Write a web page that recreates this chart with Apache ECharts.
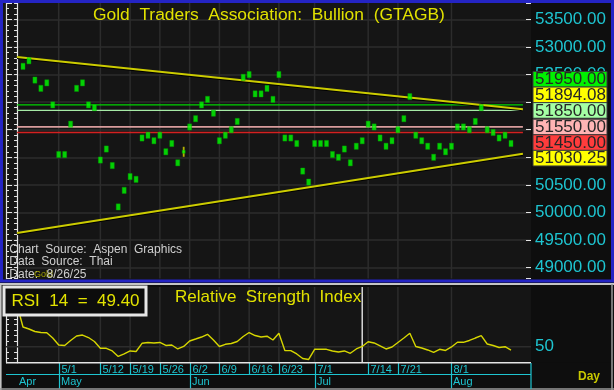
<!DOCTYPE html>
<html><head><meta charset="utf-8">
<script src="https://cdn.jsdelivr.net/npm/echarts@6/dist/echarts.min.js"></script>
<style>html,body{margin:0;padding:0;background:#000;} #c{width:614px;height:390px;}</style>
</head><body><div id="c"></div>
<script>
// ---------- DATA ----------
const dates = ['4/22','4/23','4/24','4/25','4/28','4/29','4/30',
 '5/1','5/2','5/5','5/6','5/7','5/8','5/9','5/12','5/13','5/14','5/15','5/16','5/19','5/20','5/21','5/22','5/23','5/26','5/27','5/28','5/29','5/30',
 '6/2','6/3','6/4','6/5','6/6','6/9','6/10','6/11','6/12','6/13','6/16','6/17','6/18','6/19','6/20','6/23','6/24','6/25','6/26','6/27','6/30',
 '7/1','7/2','7/3','7/4','7/7','7/8','7/9','7/10','7/11','7/14','7/15','7/16','7/17','7/18','7/21','7/22','7/23','7/24','7/25','7/28','7/29','7/30','7/31',
 '8/1','8/4','8/5','8/6','8/7','8/8','8/11','8/12','8/13','8/14','8/15'];
// daily bullion price (bar centre), baht; first day is before the first bar
const prices = [null,
 52650,52750,52400,52250,52350,51950,51050,51050,51600,52250,
 52350,51950,51900,50950,51150,50850,50100,50400,50650,50600,
 51350,51400,51300,51400,51100,51250,50900,51100,51550,51700,
 51950,52050,51800,51300,51400,51500,51650,52450,52500,52150,
 52150,52250,52050,52500,51350,51350,51250,50750,50550,51250,
 51250,51250,51050,51000,51150,50900,51200,51300,51600,51550,
 51350,51200,51300,51500,51700,52100,51400,51300,51200,51000,
 51200,51100,51200,51550,51550,51500,51650,51900,51500,51450,
 51350,51400,51250];
const dojiDate = '5/30';
const rsi = [57.5,
 53.54,53.18,52.73,52.55,52.52,51.56,50.31,50.22,51.12,51.92,
 52.1,51.65,50.94,49.71,49.71,49.23,48.24,48.69,49.23,49.14,
 50.61,50.76,50.67,50.76,50.22,50.31,49.59,50.04,51.03,51.38,
 51.74,52.23,51.2,50.04,50.43,50.58,50.94,51.83,52.55,52.01,
 51.74,51.89,51.2,52.41,49.32,49.3,48.69,47.88,47.7,49.53,
 49.53,49.53,49.23,49.05,49.23,48.81,49.59,50.04,50.9,50.67,
 50.13,49.59,49.95,50.76,51.56,52.41,50.04,49.77,49.41,48.99,
 49.53,49.32,49.95,50.79,50.79,51.12,51.56,51.98,50.49,50.22,
 49.86,50.0,49.4];
const rsiNow = 49.40;
const upperTrend = [[0, 52821], [85, 51872]];
const lowerTrend = [[0, 49629], [85, 51064]];
const levelValues = [51950, 51850, 51550, 51450];
const levelSpan = [0, 85];
const tagValues = [51950, 51894.08, 51850, 51550, 51450, 51030.25];
const weekTicks = ['5/1','5/12','5/19','5/26','6/2','6/9','6/16','6/23','7/1','7/14','7/21','8/1'];
const monthLabels = ['Apr','May','Jun','Jul','Aug'];
const monthStarts = ['4/22','5/1','6/2','7/1','8/1'];
const cursorDate = '7/11';
const titleText = 'Gold  Traders  Association:  Bullion  (GTAGB)';
const sourceLines = ['Chart  Source:  Aspen  Graphics', 'Data  Source:  Thai'];
const dateText = '8/26/25';

// ---------- STYLE ----------
const FONT = '"Liberation Sans", Arial, sans-serif';
const CYAN = '#1ec4d0';
const YEL = '#e2e200';
const GRID = '#2c2c2c';
const WHITE = '#e4e4e4';
const levelColors = ['#00d400', '#a6eaa6', '#d89c9c', '#d42020'];
const levelWidths = [1.3, 1.3, 1.8, 1.3];
const tagColors = ['#00f000', '#ffff00', '#a4ffa4', '#ffb4b4', '#ff3c3c', '#ffff00'];
const PRICE_MIN = 48800, PRICE_MAX = 53800;
const RSI_MIN = 47.12, RSI_MAX = 60.74;
const X_MIN = -1.857, X_MAX = 86.36;

const idxOf = d => dates.indexOf(d);
const chart = echarts.init(document.getElementById('c'), null, {width: 614, height: 390});

function yAx(grid, pos, min, max, step, len, line, label, split) {
  return {
    gridIndex: grid, type: 'value', position: pos, min: min, max: max,
    minInterval: step, maxInterval: step, splitNumber: Math.round((max - min) / step),
    axisLine: {show: line, lineStyle: {color: WHITE, width: 1.2}},
    axisTick: {show: true, inside: true, length: len, lineStyle: {color: WHITE, width: 1}},
    axisLabel: label ? Object.assign({show: true, color: CYAN, fontSize: 17, fontFamily: FONT, margin: 4}, label) : {show: false},
    splitLine: split ? {show: true, showMinLine: false, showMaxLine: false, lineStyle: {color: GRID, width: 1.5}} : {show: false}
  };
}

const vGrid = (xi, yi, yv) => ({
  type: 'custom', xAxisIndex: xi, yAxisIndex: yi, silent: true, z: 1,
  data: weekTicks.map(d => [idxOf(d), yv]),
  renderItem: (params, api) => {
    const cs = params.coordSys;
    const x = api.coord([api.value(0), yv])[0];
    return {type: 'line', shape: {x1: x, y1: cs.y, x2: x, y2: cs.y + cs.height},
      style: {stroke: GRID, lineWidth: 1.5}};
  }
});

const series = [
  vGrid(0, 0, 51000),
  vGrid(1, 4, 50),
  // RSI 50 gridline + cursor
  {type: 'custom', xAxisIndex: 1, yAxisIndex: 4, silent: true, z: 1,
   data: [[idxOf(cursorDate), 50]],
   renderItem: (params, api) => {
     const cs = params.coordSys;
     const y = api.coord([0, 50])[1];
     const x = api.coord([api.value(0), 50])[0];
     return {type: 'group', children: [
       {type: 'line', shape: {x1: cs.x, y1: y, x2: cs.x + cs.width, y2: y}, style: {stroke: GRID, lineWidth: 1.5}},
       {type: 'line', shape: {x1: x, y1: cs.y, x2: x, y2: cs.y + cs.height}, style: {stroke: '#d8d8d8', lineWidth: 1.5}}
     ]};
   }}
];
levelValues.forEach((v, i) => series.push({
  type: 'line', xAxisIndex: 0, yAxisIndex: 0, symbol: 'none', silent: true, z: 3,
  data: [[levelSpan[0], v], [levelSpan[1], v]],
  lineStyle: {color: levelColors[i], width: levelWidths[i]}
}));
[upperTrend, lowerTrend].forEach(t => series.push({
  type: 'line', xAxisIndex: 0, yAxisIndex: 0, symbol: 'none', silent: true, z: 3,
  data: t, lineStyle: {color: '#cccc00', width: 2, shadowColor: '#000', shadowOffsetY: 1}
}));
const dIdx = idxOf(dojiDate);
series.push({
  type: 'scatter', xAxisIndex: 0, yAxisIndex: 0, symbol: 'rect', symbolSize: [1.8, 10], z: 4, silent: true,
  itemStyle: {color: '#d8d800'},
  data: [[dIdx, prices[dIdx]]]
});
series.push({
  type: 'scatter', xAxisIndex: 0, yAxisIndex: 0, symbol: 'rect', symbolSize: [4, 6.2], z: 5, silent: true,
  itemStyle: {color: '#00ff00', borderColor: '#00a000', borderWidth: 0.5},
  data: prices.map((p, i) => p == null ? null : (i === dIdx ? {value: [i, p], symbolSize: [3, 3]} : [i, p])).filter(d => d)
});
series.push({
  type: 'line', xAxisIndex: 1, yAxisIndex: 4, symbol: 'none', silent: true, z: 4,
  data: rsi.map((v, i) => [i, v]), lineStyle: {color: '#d6d600', width: 1.4}
});
// date axis rows (week ticks and month ticks) under the RSI panel
series.push({
  type: 'custom', xAxisIndex: 1, yAxisIndex: 4, silent: true, clip: false, z: 6,
  data: weekTicks.map(d => [idxOf(d), 50]),
  renderItem: (params, api) => {
    const cs = params.coordSys;
    const x = Math.round(api.coord([api.value(0), 50])[0]) + 0.5;
    const yTop = cs.y + cs.height;
    return {type: 'group', children: [
      {type: 'line', shape: {x1: x, y1: yTop, x2: x, y2: yTop + 11.8}, style: {stroke: CYAN, lineWidth: 1.2}},
      {type: 'text', style: {text: weekTicks[params.dataIndex], x: x + 2, y: yTop + 7.4, fill: CYAN,
        font: '11px ' + FONT, align: 'left', verticalAlign: 'middle'}}
    ]};
  }
});
series.push({
  type: 'custom', xAxisIndex: 1, yAxisIndex: 4, silent: true, clip: false, z: 6,
  data: monthStarts.map(d => [idxOf(d), 50]),
  renderItem: (params, api) => {
    const cs = params.coordSys;
    const x = Math.round(api.coord([api.value(0), 50])[0]) + 0.5;
    const y0 = cs.y + cs.height + 11.8;
    const ch = [{type: 'text', style: {text: monthLabels[params.dataIndex], x: x + 1.5, y: y0 + 7.2, fill: CYAN,
        font: '11px ' + FONT, align: 'left', verticalAlign: 'middle'}}];
    if (params.dataIndex > 0) ch.push({type: 'line', shape: {x1: x, y1: y0, x2: x, y2: y0 + 14}, style: {stroke: CYAN, lineWidth: 1.2}});
    return {type: 'group', children: ch};
  }
});

const option = {
  backgroundColor: '#151515',
  animation: false,
  grid: [
    {left: 6, right: 83, top: 2.9, height: 275.7},
    {left: 6, right: 83, top: 287, height: 75.7}
  ],
  xAxis: [
    {gridIndex: 0, type: 'value', min: X_MIN, max: X_MAX, show: false},
    {gridIndex: 1, type: 'value', min: X_MIN, max: X_MAX, show: false}
  ],
  yAxis: [
    yAx(0, 'right', PRICE_MIN, PRICE_MAX, 100, 3, true, {formatter: v => (v % 500 === 0 ? v.toFixed(2) : '')}, false),
    yAx(0, 'right', PRICE_MIN, PRICE_MAX, 500, 5, false, null, true),
    yAx(0, 'left', PRICE_MIN, PRICE_MAX, 100, 3, true, null, false),
    yAx(0, 'left', PRICE_MIN, PRICE_MAX, 500, 6, false, null, false),
    yAx(1, 'right', RSI_MIN, RSI_MAX, 1, 3, true, {formatter: v => (v === 50 ? '50' : '')}, false),
    yAx(1, 'left', RSI_MIN, RSI_MAX, 1, 3, true, null, false)
  ],
  series: series
};
chart.setOption(option);

// ---------- tags on the price scale ----------
const TAG_H = 15.6;
const ty = tagValues.map(v => chart.convertToPixel({yAxisIndex: 0}, v));
for (let i = 1; i >= 0; i--) ty[i] = Math.min(ty[i], ty[i + 1] - TAG_H);
for (let i = 3; i < ty.length; i++) ty[i] = Math.max(ty[i], ty[i - 1] + TAG_H);

const txt = (s, x, y, font, fill, extra) => Object.assign({type: 'text', z: 60, silent: true,
  style: Object.assign({text: s, x: x, y: y, font: font, fill: fill, align: 'left', verticalAlign: 'middle',
    textAlign: 'left', textVerticalAlign: 'middle'}, extra || {})});
const shadow = {shadowColor: '#000', shadowOffsetX: 1, shadowOffsetY: 1, shadowBlur: 0};

const g = [
  // dark backgrounds behind axes
  {type: 'rect', z: -5, silent: true, shape: {x: 531, y: 0, width: 83, height: 390}, style: {fill: '#0e0e0e'}},
  {type: 'rect', z: -5, silent: true, shape: {x: 0, y: 281, width: 614, height: 6}, style: {fill: '#0e0e0e'}},
  {type: 'rect', z: -5, silent: true, shape: {x: 0, y: 362.7, width: 614, height: 28}, style: {fill: '#0e0e0e'}},
  {type: 'rect', z: -5, silent: true, shape: {x: 0, y: 284, width: 6, height: 106}, style: {fill: '#0e0e0e'}},
  // frames
  {type: 'rect', z: 50, silent: true, shape: {x: 1.5, y: 1.5, width: 611, height: 279.5}, style: {fill: null, stroke: '#2424c4', lineWidth: 3}},
  {type: 'line', z: 50, silent: true, shape: {x1: 0, y1: 284, x2: 614, y2: 284}, style: {stroke: '#c4c4c4', lineWidth: 2}},
  {type: 'line', z: 50, silent: true, shape: {x1: 0.8, y1: 284, x2: 0.8, y2: 390}, style: {stroke: '#c4c4c4', lineWidth: 1.6}},
  {type: 'line', z: 50, silent: true, shape: {x1: 612, y1: 284, x2: 612, y2: 390}, style: {stroke: '#9a9a9a', lineWidth: 1.5}},
  {type: 'line', z: 50, silent: true, shape: {x1: 0, y1: 389, x2: 614, y2: 389}, style: {stroke: '#9a9a9a', lineWidth: 1.5}},
  {type: 'line', z: 50, silent: true, shape: {x1: 6, y1: 362.7, x2: 531, y2: 362.7}, style: {stroke: WHITE, lineWidth: 1.5}},
  {type: 'line', z: 50, silent: true, shape: {x1: 6, y1: 374.5, x2: 531, y2: 374.5}, style: {stroke: CYAN, lineWidth: 1.2}},
  {type: 'line', z: 50, silent: true, shape: {x1: 531, y1: 363, x2: 531, y2: 389}, style: {stroke: CYAN, lineWidth: 1.2}},
  // titles
  txt(titleText, 93, 15.5, '17.4px ' + FONT, YEL, shadow),
  txt('Relative  Strength  Index', 175, 297.5, '17px ' + FONT, YEL, shadow),
  // RSI value box
  {type: 'rect', z: 55, silent: true, shape: {x: 4, y: 287, width: 142, height: 28}, style: {fill: '#0c0c0c', stroke: '#e6e6e6', lineWidth: 3}},
  txt('RSI  14  =  ' + rsiNow.toFixed(2), 11.5, 301.5, '17px ' + FONT, YEL, shadow),
  // sources
  txt(sourceLines[0], 9.3, 249.5, '12px ' + FONT, '#cfcfcf'),
  txt(sourceLines[1], 9.3, 262, '12px ' + FONT, '#cfcfcf'),
  txt('Date:', 9.3, 274.5, '12px ' + FONT, '#cfcfcf'),
  txt('Gold', 34, 275, '9px ' + FONT, '#a8a800'),
  txt(dateText, 46.5, 274.5, '12px ' + FONT, '#cfcfcf'),
  txt('Day', 578, 377, 'bold 12px ' + FONT, '#c8c800')
];
tagValues.forEach((v, i) => {
  g.push({type: 'rect', z: 58, silent: true, shape: {x: 533, y: ty[i] - TAG_H / 2, width: 74, height: TAG_H},
    style: {fill: tagColors[i], stroke: '#3a3a3a', lineWidth: 1}});
  g.push(txt(v.toFixed(2), 535, ty[i] + 0.5, '17px ' + FONT, '#262626'));
});
chart.setOption({graphic: g});
</script></body></html>
